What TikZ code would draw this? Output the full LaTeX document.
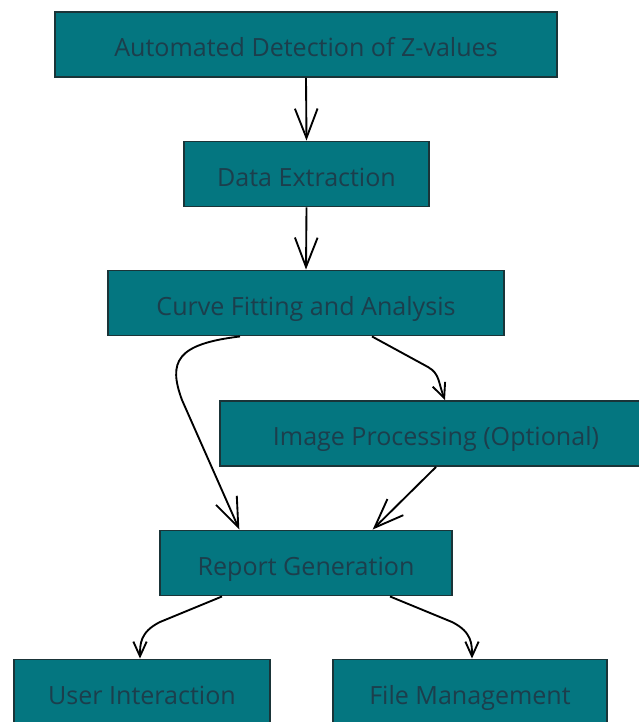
\documentclass[tikz,border=0pt]{standalone}
\usepackage{fontspec}
\setmainfont{Open Sans}
\usetikzlibrary{arrows.meta}
\definecolor{boxfill}{HTML}{047680}
\definecolor{boxtext}{HTML}{1C3E4C}
\definecolor{boxline}{HTML}{1A3438}
\tikzset{
  box/.style={draw=boxline, line width=1.2pt, fill=boxfill, text=boxtext,
    font=\fontsize{18.8pt}{21pt}\selectfont, inner sep=0pt, minimum height=49pt,
    text height=18pt, text depth=0pt},
  conn/.style={draw=black, line width=1.4pt},
  bigarr/.style={conn, -{Straight Barb[length=22pt,width=17pt,line width=1.4pt]}},
  smallarr/.style={conn, -{Straight Barb[length=11pt,width=10pt,line width=1.4pt]}}
}
\begin{document}
\begin{tikzpicture}[x=0.75pt,y=-0.75pt]
\useasboundingbox (0,0) rectangle (639,722);
\node[box, minimum width=376.5pt] (A) at (306,44.5) {Automated Detection of Z-values};
\node[box, minimum width=183.75pt] (B) at (306.5,174) {Data Extraction};
\node[box, minimum width=297pt] (C) at (306,303) {Curve Fitting and Analysis};
\node[box, minimum width=316.5pt] (D) at (431,433.5) {\hspace*{7.5pt}Image Processing (Optional)};
\node[box, minimum width=219pt] (E) at (306,563) {Report Generation};
\node[box, minimum width=192pt] (F) at (142,692) {User Interaction};
\node[box, minimum width=205.5pt] (G) at (470,692) {File Management};

\coordinate (c1) at (428,367);
\coordinate (c2) at (182,400);
\coordinate (e1) at (160,622);
\coordinate (e2) at (452,622);

\draw[bigarr] (A.south) -- (B.north);
\draw[bigarr] (B.south) -- (C.north);
\draw[bigarr] ([xshift=-49.5pt]C.south) .. controls (176,344) and (168,362) .. (c2) -- ([xshift=-50pt]E.north);
\draw[smallarr] ([xshift=49.5pt]C.south) -- (c1) .. controls (440,374) and (438,382) .. ([xshift=5.25pt]D.north -| 438,0);
\draw[bigarr] ([xshift=3.75pt]D.south) -- ([xshift=50pt]E.north);
\draw[smallarr] ([xshift=-63pt]E.south) -- (e1) .. controls (140,632) and (140,644) .. (F.north -| 140,0);
\draw[smallarr] ([xshift=63pt]E.south) -- (e2) .. controls (472,632) and (472,644) .. (G.north -| 472,0);
\end{tikzpicture}
\end{document}
